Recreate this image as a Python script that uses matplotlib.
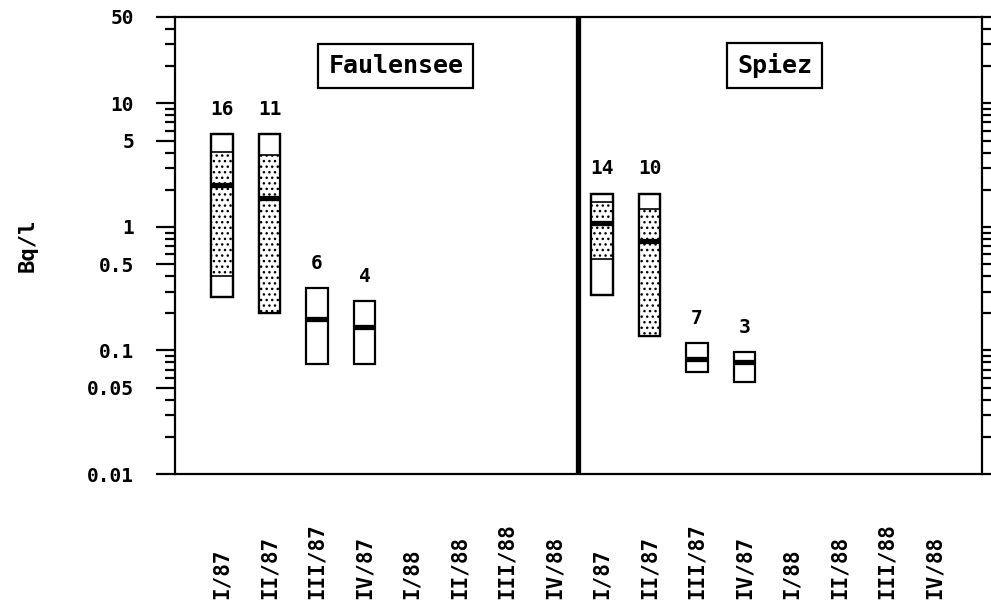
import matplotlib
matplotlib.use("Agg")
import matplotlib.pyplot as plt
from matplotlib.patches import Rectangle
from matplotlib.ticker import FixedLocator, NullFormatter
from matplotlib.transforms import blended_transform_factory

# Quarter labels (same 8 quarters for both lakes)
quarters = ["I/87", "II/87", "III/87", "IV/87", "I/88", "II/88", "III/88", "IV/88"]
lakes = ["Faulensee", "Spiez"]

# Faulensee: range, inner (stippled) range, median, number of samples
faul_max = [5.6, 5.6, 0.32, 0.25]
faul_hi = [4.05, 3.8, None, None]
faul_med = [2.2, 1.7, 0.18, 0.155]
faul_lo = [0.40, 0.20, None, None]
faul_min = [0.27, 0.20, 0.078, 0.078]
faul_n = [16, 11, 6, 4]

# Spiez
spiez_max = [1.86, 1.86, 0.115, 0.097]
spiez_hi = [1.6, 1.4, None, None]
spiez_med = [1.08, 0.77, 0.086, 0.08]
spiez_lo = [0.55, 0.13, None, None]
spiez_min = [0.28, 0.13, 0.067, 0.056]
spiez_n = [14, 10, 7, 3]

y_ticks = [0.01, 0.05, 0.1, 0.5, 1, 5, 10, 50]
y_tick_labels = ["0.01", "0.05", "0.1", "0.5", "1", "5", "10", "50"]

mono = "DejaVu Sans Mono"
plt.rcParams["hatch.linewidth"] = 1.0
plt.rcParams["hatch.color"] = "black"

fig = plt.figure(figsize=(9.91, 6.03), dpi=100)
ax = fig.add_axes([174.5 / 991, 1 - 474 / 603, 807.5 / 991, 457 / 603])
ax.set_yscale("log")
ax.set_ylim(0.01, 50)
ax.set_xlim(0, 17)

box_w = 0.45


def draw_lake(start, vmax, vhi, vmed, vlo, vmin, counts):
    for i in range(len(vmax)):
        x = start + i
        left = x - box_w / 2
        # outer box (min-max)
        ax.add_patch(Rectangle((left, vmin[i]), box_w, vmax[i] - vmin[i],
                               facecolor="white", edgecolor="black", lw=1.6, zorder=2))
        # stippled inner range
        if vhi[i] is not None:
            ax.add_patch(Rectangle((left, vlo[i]), box_w, vhi[i] - vlo[i],
                                   facecolor="white", edgecolor="black", lw=1.2,
                                   hatch="...", zorder=3))
            ax.add_patch(Rectangle((left, vmin[i]), box_w, vmax[i] - vmin[i],
                                   facecolor="none", edgecolor="black", lw=1.6, zorder=4))
        # median
        ax.hlines(vmed[i], left, left + box_w, colors="black", lw=3.8, zorder=5)
        ax.annotate(str(counts[i]), (x, vmax[i]), xytext=(0, 11), textcoords="offset points",
                    ha="center", va="bottom", family=mono, weight="bold", fontsize=14)


draw_lake(1, faul_max, faul_hi, faul_med, faul_lo, faul_min, faul_n)
draw_lake(9, spiez_max, spiez_hi, spiez_med, spiez_lo, spiez_min, spiez_n)

# thick separator between the two lakes
ax.axvline(8.5, color="black", lw=3.8, zorder=6)

for sp in ax.spines.values():
    sp.set_linewidth(1.6)

# y axis: labelled ticks left, ticks on the right too
minor = [d * k for d in (0.01, 0.1, 1, 10) for k in range(2, 10) if d * k < 50]
ax.yaxis.set_major_locator(FixedLocator(y_ticks))
ax.yaxis.set_minor_locator(FixedLocator(minor))
ax.yaxis.set_minor_formatter(NullFormatter())
ax.set_yticklabels(y_tick_labels, family=mono, weight="bold", fontsize=14)
ax.tick_params(axis="y", which="major", direction="out", length=14, width=1.6,
               left=True, right=True, pad=15)
ax.tick_params(axis="y", which="minor", direction="out", length=7, width=1.6,
               left=True, right=True)
ax.set_ylabel("Bq/l", family=mono, weight="bold", fontsize=16, labelpad=36)

# x axis: rotated quarter labels sitting on the bottom edge, no tick marks
ax.set_xticks(range(1, 17))
ax.set_xticklabels([])
ax.tick_params(axis="x", length=0)
trans = blended_transform_factory(ax.transData, fig.transFigure)
for pos, lab in zip(range(1, 17), quarters + quarters):
    ax.text(pos, 0.006, lab, transform=trans, rotation=90, ha="center", va="bottom",
            family=mono, weight="bold", fontsize=15)

# lake name boxes
box_style = dict(boxstyle="square,pad=0.4", facecolor="white", edgecolor="black", lw=1.6)
ax.text(4.66, 20.2, lakes[0], ha="center", va="center", family=mono, weight="bold",
        fontsize=18, bbox=box_style)
ax.text(12.63, 20.2, lakes[1], ha="center", va="center", family=mono, weight="bold",
        fontsize=18, bbox=box_style)

fig.savefig("out.png", dpi=100)
